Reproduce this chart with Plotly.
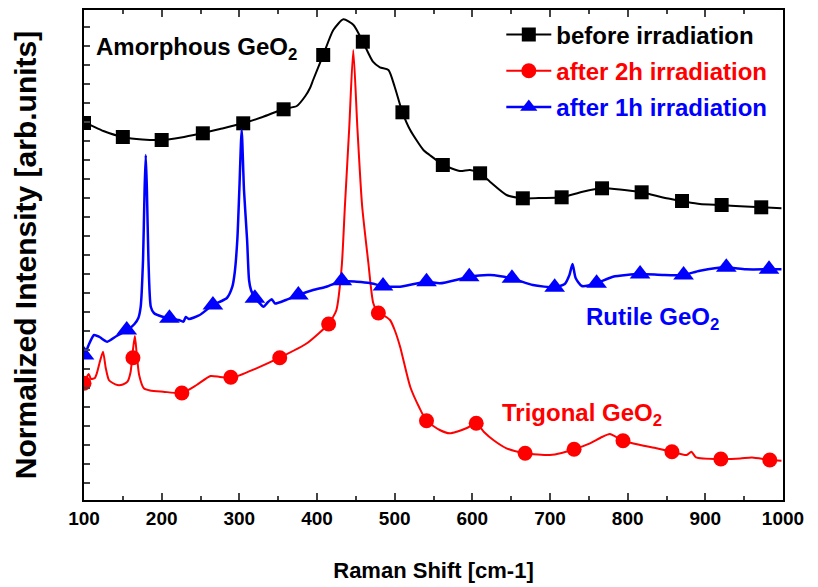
import plotly.graph_objects as go

# ---- data (intensity in arbitrary units) ----
before_x = [100,105,125,150,175,200,225,250,275,305,330,357,374,385,391,395,408,421,434,447,459,472,481,492,500,510,520,537,545,563,584,597,610,623,644,665,690,715,742,767,790,818,850,870,893,921,945,972,998]
before_y = [377,376,369,363,360.5,360,362.5,366.5,371,376.7,383,391,394,404,412,420,445,470,480.7,475,458.3,438.3,432.7,430,413.3,387.7,370,350,345,335,329,330,326.7,318,305,301.7,302,302.7,308.3,311.7,310.5,307.7,301.7,299,296,295,293.7,292.7,291.7]
before_mx = [100,150,200,253,305,357,408,459,510,562,610,665,715,767,818,870,921,972]
before_my = [377,363,360,366.7,376.7,390.7,445,458.3,387.7,335,326.7,301.7,302.7,311.7,307.7,299,295,292.7]

h2_x = [100,103,106,109,114,117,121,124.5,128,132,137,143,150,156,160,163,165.5,168,171,177,185,202,226,245,263,275,290,322,352,387,415,420,425,431.8,436,441.5,446.7,452,458,466,472.5,479,487,494,500,507,520,532,541,558,571,580,593,605,615,627,644,668,700,715,731,751.5,767,777,794,816,837,857,876,882,888,920,945,960,983,998]
h2_y = [116.7,122,126,121,122,128,140,148.3,132,120,117,115,115.5,118.3,128,150,164,145,125,111.7,109.5,108.3,107,115,124,123,122,131.7,142.3,156.7,176,182,190,233.3,295,372,450,372,295,238,196.7,187.3,184,180,170,153.3,113.3,92,79.3,70,66.7,68.3,72,76.7,68,60,51.7,46.7,45,47,50.7,56.7,63,66,59.3,55,51.7,48.3,45,48.3,42.7,41,41.5,42.5,40,39.3]
h2_mx = [100,163,226,289,352,415,479,541,605,668,731,794,857,920,983]
h2_my = [116.7,142.3,107,122.7,142.3,176,187,79.3,76.7,46.7,50.7,59.3,48.3,41,40]

h1_x = [100,106,113,120,130,142,156,165,170,173,176,178,179.5,181,183,186,190,200,210,222,228,231,235,249,266,284,291,294,297.4,300,303,306,310,312.5,315,320,326,331,337,341.7,346,360,376,395,412,432,451,468,485,507,541,558,584,596,623,650,678,706,719,725,729,733,741,760,781,816,845,871,893,926,952,982,998]
h1_y = [142,155,165,163,158.3,164,170,176,182,193.3,240,310,345,310,240,193.3,187,183.5,182,180,178.3,183,181,185,195,202,213.3,227,260,310,370,310,260,220,210,202,197,193.3,198,200.7,196.5,200,205,210,213.3,219,218.3,217,214,213.3,218.3,216.7,221,223.3,225,221.7,215,212.7,216,225,236,222,214,216.7,223.3,226,225,225,229.3,232.7,230.7,230.7,230.7]
h1_mx = [100,155,210,266,320,376,432,485,541,596,651,706,760,816,872,927,982]
h1_my = [145,170,181.7,195,201.7,205,219.3,214,218.3,223.3,221.7,212.7,216.7,226,225,232.7,230.7]

x_ticks = [100,200,300,400,500,600,700,800,900,1000]

BLACK, RED, BLUE = "#000000", "#ff0000", "#0000ff"
FONT = "Arial, 'Liberation Sans', sans-serif"

fig = go.Figure()
series = [
    ("before irradiation", before_x, before_y, before_mx, before_my, BLACK, "square", 2, 14),
    ("after 2h irradiation", h2_x, h2_y, h2_mx, h2_my, RED, "circle", 2, 15),
    ("after 1h irradiation", h1_x, h1_y, h1_mx, h1_my, BLUE, "triangle-up", 2.5, 18),
]
for name, xs, ys, mx, my, col, sym, lw, ms in series:
    fig.add_trace(go.Scatter(x=xs, y=ys, mode="lines", line=dict(color=col, width=lw, shape="spline", smoothing=0.6),
                             showlegend=False, legendgroup=name, hoverinfo="skip"))
    fig.add_trace(go.Scatter(x=mx, y=my, mode="markers", marker=dict(symbol=sym, size=ms, color=col, line=dict(width=0)),
                             showlegend=False, legendgroup=name))
    fig.add_trace(go.Scatter(x=[None], y=[None], mode="lines+markers", legendgroup=name,
                             name=f"<span style='color:{col}'>{name}</span>",
                             line=dict(color=col, width=lw), marker=dict(symbol=sym, size=min(ms, 15), color=col)))

annots = [
    ("Amorphous GeO<sub>2</sub>", 113, 452, BLACK),
    ("Rutile GeO<sub>2</sub>", 744, 182, BLUE),
    ("Trigonal GeO<sub>2</sub>", 636, 86, RED),
]
for txt, ax, ay, col in annots:
    fig.add_annotation(x=ax, y=ay, text=txt, showarrow=False, xanchor="left", yanchor="middle",
                       font=dict(family=FONT, size=24, color=col, weight="bold"))

# page body has an 8px margin: figure is sized to fit the 818x587 window
fig.update_layout(
    width=810, height=579,
    margin=dict(l=76, r=35, t=2, b=87, autoexpand=False),
    paper_bgcolor="white", plot_bgcolor="white",
    font=dict(family=FONT, color="black"),
    legend=dict(x=0.597, y=0.995, xanchor="left", yanchor="top", bgcolor="rgba(0,0,0,0)",
                font=dict(family=FONT, size=24, weight="bold"), itemwidth=45,
                traceorder="grouped", tracegroupgap=2),
    xaxis=dict(range=[100, 1000], tickvals=x_ticks, ticks="inside", ticklen=7, tickwidth=2,
               showline=True, linewidth=2, linecolor="black", mirror="ticks", showgrid=False, zeroline=False,
               automargin=False,
               minor=dict(ticks="inside", ticklen=4, tickwidth=2, dtick=50, showgrid=False),
               tickfont=dict(family=FONT, size=19, weight="bold"),
               title=dict(text="Raman Shift [cm-1]", font=dict(family=FONT, size=22, weight="bold"), standoff=35)),
    yaxis=dict(range=[0, 490], tick0=17, dtick=19, ticks="inside", ticklen=6, tickwidth=2,
               showticklabels=False, showline=True, linewidth=2, linecolor="black", mirror=True,
               showgrid=False, zeroline=False, automargin=False,
               title=dict(text="Normalized Intensity [arb.units]", font=dict(family=FONT, size=30, weight="bold"), standoff=37)),
)

fig.write_html("out.html")
